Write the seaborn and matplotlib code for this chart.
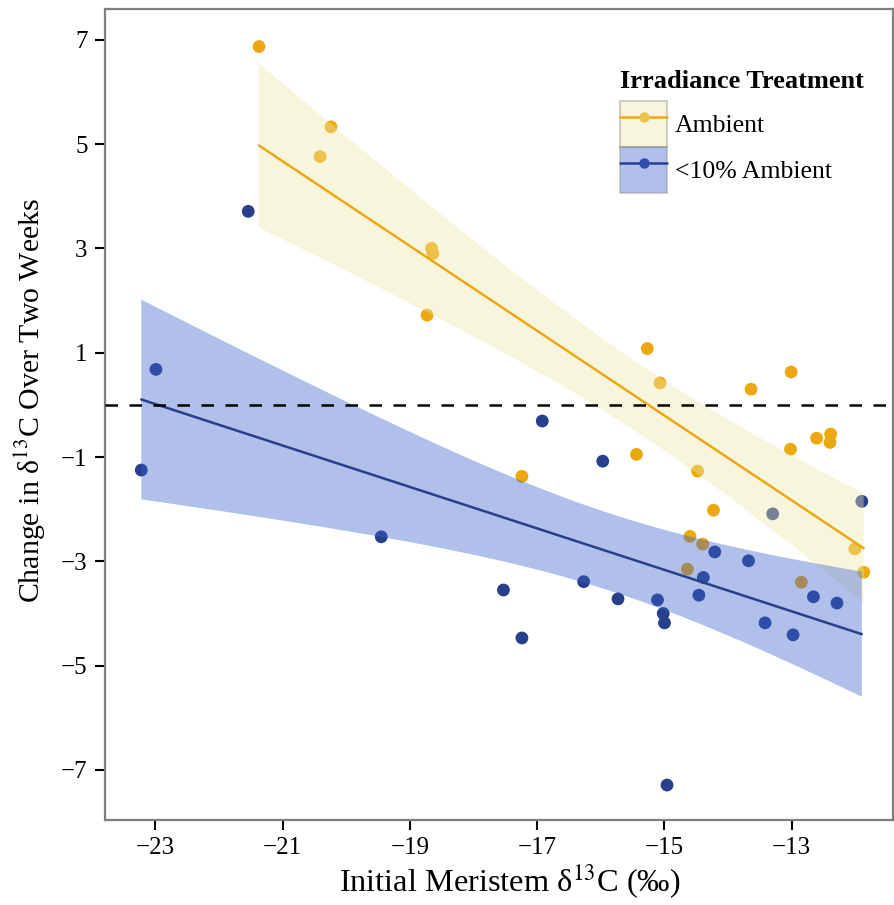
import matplotlib
matplotlib.use("Agg")
import matplotlib.pyplot as plt
from matplotlib.patches import Patch
from matplotlib.lines import Line2D
from matplotlib.legend_handler import HandlerTuple
import seaborn as sns
import pandas as pd
import numpy as np

# ---- data ----
ambient_x = [-21.37, -20.24, -20.41, -18.66, -18.64, -18.73, -15.27, -15.07,
             -13.64, -13.01, -15.44, -17.24, -13.02, -12.61, -12.39, -12.40,
             -14.48, -14.23, -14.60, -14.40, -14.64, -12.85, -12.01, -11.87]
ambient_y = [6.87, 5.33, 4.76, 3.00, 2.90, 1.72, 1.08, 0.42,
             0.30, 0.63, -0.95, -1.37, -0.85, -0.64, -0.56, -0.72,
             -1.27, -2.02, -2.52, -2.67, -3.15, -3.40, -2.76, -3.21]
low_x = [-21.54, -22.99, -23.22, -19.45, -16.92, -15.97, -11.90, -13.30,
         -14.21, -13.68, -14.39, -16.27, -17.53, -14.46, -12.66, -12.29,
         -15.73, -15.11, -15.02, -15.00, -13.42, -12.98, -17.24, -14.96]
low_y = [3.71, 0.68, -1.25, -2.53, -0.31, -1.08, -1.85, -2.09,
         -2.82, -2.99, -3.31, -3.39, -3.55, -3.65, -3.68, -3.80,
         -3.72, -3.74, -4.00, -4.18, -4.18, -4.41, -4.47, -7.29]
groups = ["Ambient", "<10% Ambient"]
x_ticks = [-23, -21, -19, -17, -15, -13]
y_ticks = [7, 5, 3, 1, -1, -3, -5, -7]

df = pd.DataFrame({
    "x": ambient_x + low_x,
    "y": ambient_y + low_y,
    "treat": [groups[0]] * len(ambient_x) + [groups[1]] * len(low_x),
})

point_colors = {"Ambient": "#ECA90F", "<10% Ambient": "#283F8C"}
ribbon_colors = {"Ambient": "#EEE8AA", "<10% Ambient": "#3A62CF"}
legend_marker = {"Ambient": "#EDC34C", "<10% Ambient": "#2F4EA7"}
ribbon_alpha = 0.4


def t_crit(dof):
    try:
        from scipy import stats
        return float(stats.t.ppf(0.975, dof))
    except Exception:
        return 2.0739  # 97.5% quantile of t with 22 dof


sns.set_theme(style="ticks")
plt.rcParams["font.family"] = ["Liberation Serif", "DejaVu Serif"]
plt.rcParams["mathtext.fontset"] = "stix"
plt.rcParams["text.color"] = "black"
plt.rcParams["axes.labelcolor"] = "black"

fig = plt.figure(figsize=(8.94, 9.05), dpi=100)
ax = fig.add_axes([105 / 894, 1 - 820 / 905, (893 - 105) / 894, (820 - 9) / 905])

sns.scatterplot(data=df, x="x", y="y", hue="treat", palette=point_colors,
                s=85, linewidth=0, legend=False, ax=ax, zorder=2)

for g in groups:
    sub = df[df["treat"] == g]
    sns.regplot(data=sub, x="x", y="y", scatter=False, ci=None,
                color=point_colors[g], line_kws=dict(lw=1.8, zorder=4), ax=ax)
    # analytic 95% confidence band of the linear fit (as in lm smoothing)
    xv, yv = sub["x"].to_numpy(), sub["y"].to_numpy()
    n = len(xv)
    slope, icpt = np.polyfit(xv, yv, 1)
    resid = yv - (slope * xv + icpt)
    s = np.sqrt(np.sum(resid ** 2) / (n - 2))
    grid = np.linspace(xv.min(), xv.max(), 200)
    fit = slope * grid + icpt
    se = s * np.sqrt(1 / n + (grid - xv.mean()) ** 2 / np.sum((xv - xv.mean()) ** 2))
    tc = t_crit(n - 2)
    ax.fill_between(grid, fit - tc * se, fit + tc * se, facecolor=ribbon_colors[g],
                    alpha=ribbon_alpha, edgecolor="none", zorder=3)

ax.axhline(0, color="black", lw=1.8, linestyle=(0, (5.0, 4.6)), zorder=5)

ax.set_xlim(-23.79, -11.41)
ax.set_ylim(-7.96, 7.59)
ax.set_xticks(x_ticks)
ax.set_yticks(y_ticks)
ax.tick_params(axis="both", labelsize=18, length=7.5, width=1.5,
               color="black", labelcolor="black", pad=5)
for sp in ax.spines.values():
    sp.set_visible(True)
    sp.set_color("#7f7f7f")
    sp.set_linewidth(1.6)

ax.set_xlabel("Initial Meristem δ$^{13}$C (‰)", fontsize=23.3, labelpad=6)
ax.set_ylabel("Change in δ$^{13}$C Over Two Weeks", fontsize=21.5, labelpad=8)
ax.xaxis.set_label_coords(0.513, -0.052)
ax.yaxis.set_label_coords(-0.0725, 0.518)

handles = []
for g in groups:
    patch = Patch(facecolor=ribbon_colors[g], alpha=ribbon_alpha,
                  edgecolor="#8c8c8c", linewidth=1.5)
    line = Line2D([], [], color=point_colors[g], lw=1.8, marker="o",
                  markersize=7.5, markerfacecolor=legend_marker[g],
                  markeredgewidth=0)
    handles.append((patch, line))

leg = ax.legend(handles, groups,
                handler_map={tuple: HandlerTuple(ndivide=1, pad=0)},
                title="Irradiance Treatment", loc="upper left",
                bbox_to_anchor=(620 / 894, 1 - 70 / 905),
                bbox_transform=fig.transFigure, frameon=False,
                fontsize=18.5, title_fontproperties={"weight": "bold", "size": 19},
                handlelength=1.83, handleheight=2.38, handletextpad=0.3,
                labelspacing=0.0, borderpad=0, borderaxespad=0,
                alignment="left")
leg._legend_box.sep = 6

fig.savefig("out.png", dpi=100)
